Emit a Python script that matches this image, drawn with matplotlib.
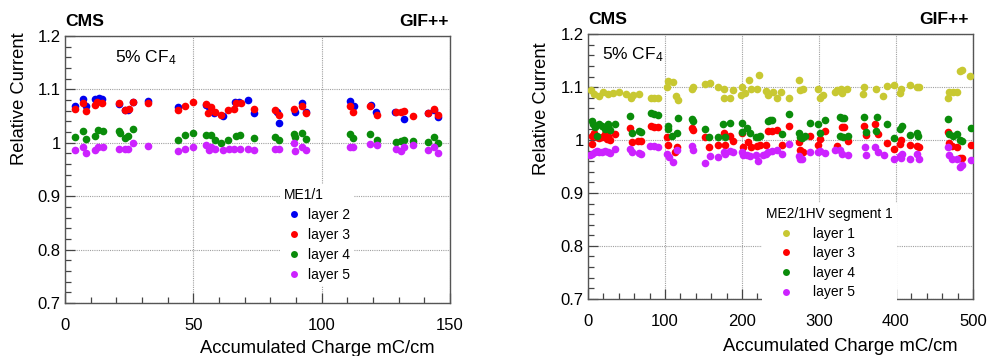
import matplotlib
matplotlib.use("Agg")
import matplotlib.pyplot as plt
from matplotlib.ticker import MultipleLocator, FuncFormatter
from matplotlib.lines import Line2D

plt.rcParams['font.family'] = ['Liberation Sans', 'DejaVu Sans']
plt.rcParams['mathtext.fontset'] = 'custom'
plt.rcParams['mathtext.rm'] = 'Liberation Sans'
plt.rcParams['mathtext.it'] = 'Liberation Sans:italic'

# ---------------- Left panel: ME1/1 ----------------
me11_l2_x = [3.9, 7.2, 8.2, 11.5, 13.3, 14.3, 21.2, 23.4, 24.7, 26.3, 32.3, 44.0, 55.1, 56.0, 58.2, 61.6,
             66.4, 67.7, 71.2, 73.8, 82.7, 83.3, 89.5, 92.4, 93.8, 111.1, 112.6, 119.1, 121.1, 128.6,
             132.2, 141.5, 143.9, 145.2]
me11_l2_y = [1.069, 1.082, 1.069, 1.0825, 1.083, 1.0825, 1.072, 1.061, 1.061, 1.077, 1.079, 1.0675, 1.071,
             1.0675, 1.055, 1.050, 1.077, 1.077, 1.080, 1.055, 1.058, 1.0375, 1.058, 1.074, 1.058, 1.079,
             1.069, 1.071, 1.058, 1.058, 1.044, 1.055, 1.061, 1.049]

me11_l3_x = [3.9, 6.9, 8.2, 11.5, 12.6, 14.5, 21.2, 23.4, 25.0, 26.3, 32.3, 44.0, 46.9, 49.9, 55.1, 55.6,
             57.0, 58.6, 60.9, 63.4, 65.8, 66.8, 68.6, 73.8, 81.8, 83.3, 89.2, 92.4, 93.8, 111.1, 112.4,
             118.9, 121.4, 128.9, 130.9, 132.2, 135.4, 141.5, 143.9, 145.2]
me11_l3_y = [1.0625, 1.075, 1.060, 1.070, 1.077, 1.075, 1.075, 1.061, 1.064, 1.077, 1.075, 1.061, 1.069,
             1.077, 1.0725, 1.055, 1.0675, 1.058, 1.052, 1.061, 1.064, 1.074, 1.074, 1.064, 1.061, 1.052,
             1.0625, 1.069, 1.055, 1.069, 1.058, 1.069, 1.052, 1.058, 1.058, 1.059, 1.050, 1.055, 1.0625,
             1.052]

me11_l4_x = [3.9, 6.9, 8.2, 11.5, 13.0, 14.7, 21.2, 21.5, 23.4, 24.7, 26.3, 44.0, 46.9, 49.9, 55.1, 56.9,
             58.6, 60.9, 63.4, 66.8, 68.1, 73.8, 81.8, 83.3, 89.2, 89.5, 92.4, 93.8, 111.1, 112.4, 118.9,
             121.4, 128.9, 130.9, 132.2, 135.4, 141.5, 143.9, 145.2]
me11_l4_y = [1.011, 1.0225, 1.008, 1.0125, 1.024, 1.022, 1.022, 1.0175, 1.009, 1.0125, 1.026, 1.005, 1.014,
             1.019, 1.014, 1.014, 1.005, 1.000, 1.006, 1.0125, 1.014, 1.009, 1.010, 1.005, 1.016, 1.011,
             1.019, 1.008, 1.016, 1.009, 1.016, 1.006, 1.002, 1.004, 1.005, 1.004, 1.002, 1.011, 0.999]

me11_l5_x = [3.9, 6.9, 8.2, 11.5, 13.0, 14.7, 21.2, 23.4, 24.7, 26.3, 32.3, 44.0, 46.9, 49.9, 55.1, 56.9,
             56.0, 58.6, 61.6, 63.8, 65.8, 68.1, 71.2, 73.8, 81.8, 83.3, 89.2, 89.5, 92.4, 93.8, 111.1,
             112.4, 118.9, 121.4, 128.9, 130.9, 132.2, 135.4, 141.5, 143.9, 145.2]
me11_l5_y = [0.986, 0.9925, 0.981, 0.986, 0.9925, 0.9925, 0.9875, 0.9875, 0.9875, 1.000, 0.994, 0.985,
             0.989, 0.9925, 0.996, 0.9925, 0.986, 0.9875, 0.986, 0.9875, 0.989, 0.989, 0.9875, 0.986,
             0.9875, 0.9875, 1.000, 0.985, 0.9925, 0.986, 0.9925, 0.9925, 0.9975, 0.996, 0.989, 0.985,
             0.9925, 0.996, 0.986, 0.9925, 0.981]

# ---------------- Right panel: ME2/1 HV segment 1 ----------------
me21_l1_x = [3.9, 7.8, 14.3, 19.9, 26.4, 32.9, 40.3, 48.9, 55.4, 58.9, 66.2, 81.8, 86.1, 91.3, 102.2, 104.3,
             110.8, 114.3, 117.3, 134.6, 136.8, 151.9, 158.4, 168.4, 177.1, 177.1, 184.4, 188.7, 199.6,
             198.7, 203.9, 209.1, 211.7, 222.1, 219.0, 230.7, 234.2, 239.8, 245.0, 250.6, 261.0, 274.0,
             275.3, 279.7, 298.3, 301.3, 305.6, 320.8, 322.9, 328.1, 329.4, 335.9, 358.9, 357.6, 374.0,
             383.5, 387.9, 397.8, 405.2, 406.5, 418.2, 426.8, 429.9, 467.1, 468.8, 474.5, 478.8, 483.1,
             486.1, 496.1]
me21_l1_y = [1.094, 1.0875, 1.084, 1.091, 1.0875, 1.089, 1.091, 1.0875, 1.080, 1.086, 1.088, 1.080, 1.079,
             1.079, 1.100, 1.111, 1.110, 1.084, 1.075, 1.0975, 1.100, 1.106, 1.107, 1.100, 1.0975, 1.080,
             1.079, 1.094, 1.100, 1.086, 1.089, 1.114, 1.0975, 1.1225, 1.096, 1.0925, 1.086, 1.091, 1.080,
             1.091, 1.079, 1.114, 1.094, 1.0975, 1.096, 1.080, 1.085, 1.091, 1.094, 1.0975, 1.089, 1.096,
             1.101, 1.0875, 1.096, 1.084, 1.102, 1.105, 1.089, 1.0975, 1.105, 1.100, 1.100, 1.080, 1.091,
             1.091, 1.091, 1.130, 1.133, 1.121]

me21_l3_x = [4.8, 5.6, 8.2, 11.3, 14.3, 17.7, 22.1, 24.2, 26.4, 28.6, 35.1, 54.5, 56.7, 65.4, 68.8, 81.8,
             86.1, 91.3, 103.0, 104.3, 115.2, 113.0, 134.6, 136.8, 151.9, 157.6, 168.4, 177.1, 177.9,
             184.4, 188.7, 199.6, 201.7, 207.4, 211.7, 219.0, 223.4, 230.7, 234.2, 238.5, 245.0, 251.5,
             261.0, 274.0, 275.3, 279.7, 288.3, 298.3, 301.3, 307.8, 322.9, 329.4, 332.9, 338.1, 358.9,
             360.6, 372.7, 377.1, 387.9, 397.8, 405.2, 406.5, 418.2, 426.8, 429.9, 467.1, 468.8, 473.2,
             478.8, 483.1, 485.3, 497.4]
me21_l3_y = [1.008, 0.9925, 1.014, 1.005, 1.004, 1.005, 1.011, 1.002, 1.008, 1.000, 1.011, 1.0225, 0.996,
             0.999, 0.999, 1.027, 1.025, 1.024, 1.005, 0.991, 0.986, 0.977, 1.022, 1.019, 1.006, 0.986,
             0.991, 1.0125, 0.991, 1.008, 0.9975, 1.013, 0.9875, 0.996, 0.986, 0.989, 0.991, 0.991,
             1.0175, 1.0175, 1.019, 0.991, 1.027, 0.996, 0.981, 0.977, 1.008, 0.991, 1.002, 1.0175, 0.989,
             1.025, 1.025, 0.9975, 1.027, 1.010, 1.030, 1.011, 0.994, 0.984, 0.9925, 1.000, 0.991, 0.989,
             0.9875, 1.016, 0.994, 0.988, 0.986, 0.966, 0.9655, 0.991]

me21_l4_x = [4.8, 6.9, 9.1, 11.3, 14.3, 18.6, 22.1, 25.5, 26.4, 28.6, 35.1, 54.5, 56.7, 66.2, 68.8, 81.8,
             86.1, 91.3, 103.5, 104.3, 108.7, 115.2, 117.3, 135.5, 136.8, 151.9, 157.6, 168.4, 175.8,
             177.9, 184.4, 199.6, 200.4, 206.1, 210.4, 217.7, 221.2, 223.4, 234.2, 236.4, 238.5, 251.5,
             261.0, 274.0, 275.3, 278.4, 281.8, 288.3, 298.3, 301.3, 307.8, 327.3, 329.4, 332.9, 327.3,
             331.6, 338.1, 358.9, 360.6, 374.9, 373.6, 387.9, 397.8, 405.2, 407.4, 418.2, 426.8, 429.0,
             467.1, 468.8, 474.5, 478.8, 483.1, 485.3, 497.4]
me21_l4_y = [1.036, 1.031, 1.024, 1.008, 1.030, 1.027, 1.021, 1.031, 1.024, 1.019, 1.031, 1.046, 1.014,
             1.0175, 1.016, 1.051, 1.050, 1.0475, 1.027, 1.021, 1.008, 1.014, 1.041, 1.039, 1.036, 1.021,
             1.006, 1.005, 1.030, 1.006, 1.033, 1.033, 1.016, 1.022, 1.0125, 1.005, 1.006, 1.008, 1.036,
             1.0375, 1.038, 1.011, 1.050, 1.014, 1.005, 1.004, 1.008, 1.0325, 1.030, 1.0125, 1.0375, 1.044,
             1.0425, 1.0425, 1.007, 1.006, 1.008, 1.044, 1.016, 1.044, 1.0175, 1.031, 1.004, 1.021, 1.027,
             1.010, 1.0125, 1.007, 1.039, 1.011, 1.008, 1.011, 1.000, 0.999, 1.0225]

me21_l5_x = [2.6, 4.8, 9.1, 11.3, 14.3, 18.6, 22.1, 26.4, 28.6, 35.1, 54.5, 56.7, 66.2, 68.8, 80.5, 86.1,
             91.3, 103.0, 105.2, 110.8, 115.2, 135.5, 136.8, 151.9, 158.4, 168.4, 177.1, 177.9, 184.4,
             188.7, 199.6, 201.7, 206.1, 210.4, 217.7, 221.2, 227.7, 230.7, 234.2, 238.5, 245.0, 251.5,
             261.0, 274.0, 275.3, 278.4, 288.3, 298.3, 301.3, 307.8, 320.8, 327.3, 329.4, 338.1, 359.7,
             360.6, 372.7, 376.2, 384.8, 397.8, 405.2, 408.2, 406.5, 418.2, 426.8, 429.9, 467.1, 468.8,
             473.2, 478.8, 483.1, 485.3, 497.4]
me21_l5_y = [0.971, 0.974, 0.977, 0.980, 0.977, 0.977, 0.979, 0.977, 0.975, 0.983, 0.983, 0.978, 0.975,
             0.974, 0.988, 0.988, 0.9875, 0.974, 0.9675, 0.958, 0.981, 0.989, 0.981, 0.956, 0.969, 0.9675,
             0.977, 0.974, 0.980, 0.978, 0.977, 0.9725, 0.971, 0.969, 0.971, 0.961, 0.9725, 0.974, 0.977,
             0.979, 0.981, 0.974, 0.9925, 0.969, 0.964, 0.965, 0.977, 0.977, 0.979, 0.976, 0.981, 0.981,
             0.974, 0.971, 0.9875, 0.9725, 0.986, 0.978, 0.9725, 0.964, 0.969, 0.974, 0.966, 0.964, 0.974,
             0.964, 0.986, 0.971, 0.964, 0.964, 0.949, 0.952, 0.9625]

left_labels = ["layer 2", "layer 3", "layer 4", "layer 5"]
right_labels = ["layer 1", "layer 3", "layer 4", "layer 5"]
left_title = "ME1/1"
right_title = "ME2/1HV segment 1"

C_BLUE = "#0000f0"
C_RED = "#ff0000"
C_GREEN = "#0a8c0a"
C_VIOLET = "#cc22ff"
C_YELLOW = "#c8c832"

W, H = 990, 356
fig = plt.figure(figsize=(W / 100, H / 100), dpi=100)

def px_rect(x0, y0, x1, y1):
    return [x0 / W, 1 - y1 / H, (x1 - x0) / W, (y1 - y0) / H]

axL = fig.add_axes(px_rect(65, 36, 450, 303))
axR = fig.add_axes(px_rect(588, 34.3, 973, 298.7))

fmt = FuncFormatter(lambda v, p: "%g" % round(v, 3))

def style(ax, xmax, xmaj, xmin):
    ax.set_xlim(0, xmax)
    ax.set_ylim(0.7, 1.2)
    ax.xaxis.set_major_locator(MultipleLocator(xmaj))
    ax.xaxis.set_minor_locator(MultipleLocator(xmin))
    ax.yaxis.set_major_locator(MultipleLocator(0.1))
    ax.yaxis.set_minor_locator(MultipleLocator(0.02))
    ax.yaxis.set_major_formatter(fmt)
    ax.xaxis.set_major_formatter(fmt)
    ax.tick_params(which='both', direction='in', top=False, right=False, color='#444444', width=0.9)
    ax.tick_params(which='major', length=7)
    ax.tick_params(which='minor', length=4)
    ax.tick_params(axis='x', which='major', pad=11, labelsize=12)
    ax.tick_params(axis='y', which='major', pad=3, labelsize=12)
    for s in ax.spines.values():
        s.set_color('#555555')
        s.set_linewidth(1.0)
    ax.grid(True, which='major', color='#a0a0a0', linestyle=(0, (1, 1)), linewidth=0.8)
    ax.set_axisbelow(True)

style(axL, 150, 50, 10)
style(axR, 500, 100, 20)

ms = 5.5
for xs, ys, c, lab in [(me11_l2_x, me11_l2_y, C_BLUE, left_labels[0]),
                       (me11_l3_x, me11_l3_y, C_RED, left_labels[1]),
                       (me11_l4_x, me11_l4_y, C_GREEN, left_labels[2]),
                       (me11_l5_x, me11_l5_y, C_VIOLET, left_labels[3])]:
    axL.plot(xs, ys, 'o', color=c, ms=ms, mew=0, label=lab, zorder=3)

for xs, ys, c, lab in [(me21_l1_x, me21_l1_y, C_YELLOW, right_labels[0]),
                       (me21_l3_x, me21_l3_y, C_RED, right_labels[1]),
                       (me21_l4_x, me21_l4_y, C_GREEN, right_labels[2]),
                       (me21_l5_x, me21_l5_y, C_VIOLET, right_labels[3])]:
    axR.plot(xs, ys, 'o', color=c, ms=ms, mew=0, label=lab, zorder=3)

def add_legend(ax, title, box_left_px, box_top_px, hlen, hpad, tsize, lspace):
    bb = ax.get_position()
    xa = (box_left_px / W - bb.x0) / bb.width
    ya = ((1 - box_top_px / H) - bb.y0) / bb.height
    handles, labels = ax.get_legend_handles_labels()
    hs = [Line2D([], [], marker='o', ls='none', color=h.get_color(), ms=5.0, mew=0) for h in handles]
    leg = ax.legend(hs, labels, title=title, loc='upper left', bbox_to_anchor=(xa, ya),
                    frameon=True, fancybox=False, framealpha=1, facecolor='white', edgecolor='none',
                    fontsize=10, title_fontsize=tsize, handlelength=hlen, handletextpad=hpad,
                    labelspacing=lspace, borderpad=0.3, borderaxespad=0, alignment='left')
    leg.set_zorder(5)
    return leg

add_legend(axL, left_title, 280, 184, 1.44, 0.25, 10, 0.42)
add_legend(axR, right_title, 762, 203, 2.9, 0.5, 9.9, 0.4)

# Titles and labels
def ftext(x, y, s, **kw):
    fig.text(x / W, 1 - y / H, s, **kw)

ftext(65, 25.5, "CMS", fontsize=12.6, fontweight='bold', ha='left', va='baseline')
ftext(449, 25.5, "GIF++", fontsize=12.6, fontweight='bold', ha='right', va='baseline')
ftext(588, 24.5, "CMS", fontsize=12.6, fontweight='bold', ha='left', va='baseline')
ftext(969, 24.5, "GIF++", fontsize=12.6, fontweight='bold', ha='right', va='baseline')

ftext(115, 62, "5% CF$_4$", fontsize=12.5, ha='left', va='baseline')
ftext(602, 59, "5% CF$_4$", fontsize=12.5, ha='left', va='baseline')

ftext(20, 32, "Relative Current", fontsize=13.2, rotation=90, ha='center', va='top')
ftext(542, 42, "Relative Current", fontsize=13.2, rotation=90, ha='center', va='top')

ftext(435, 353, "Accumulated Charge mC/cm", fontsize=13.2, ha='right', va='baseline')
ftext(958, 351, "Accumulated Charge mC/cm", fontsize=13.2, ha='right', va='baseline')

fig.savefig("out.png", dpi=100)
